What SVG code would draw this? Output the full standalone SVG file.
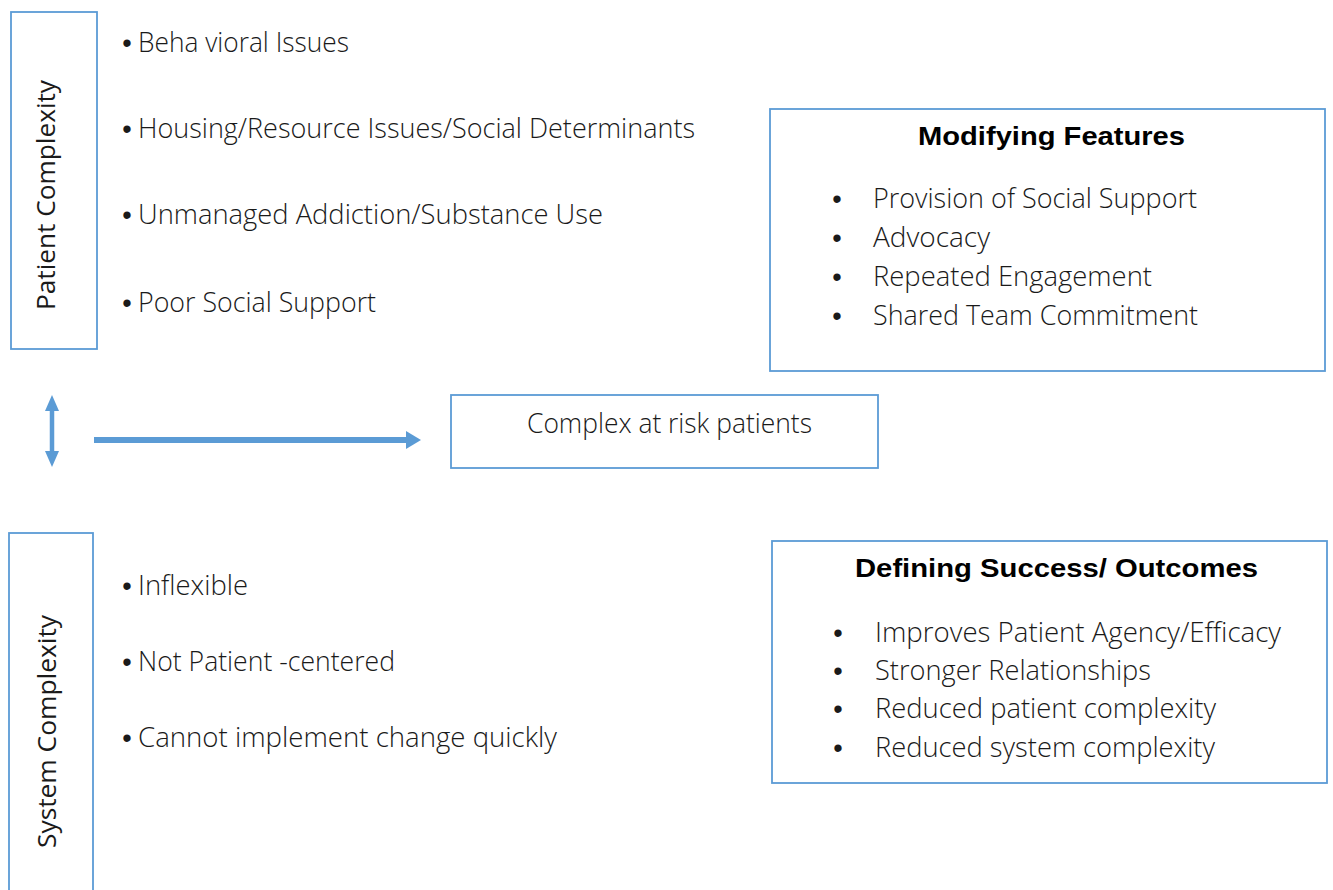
<svg xmlns="http://www.w3.org/2000/svg" width="1333" height="890" viewBox="0 0 1333 890">
  <style>
    .box { fill: #ffffff; stroke: #5B9BD5; stroke-width: 1.8; }
    .txt { font-family: "Open Sans", Lato, "Liberation Sans", sans-serif; font-weight: 300; font-size: 28px; fill: #1a1a1a; }
    .side { font-family: "Open Sans", Lato, "Liberation Sans", sans-serif; font-weight: 400; font-size: 25px; fill: #1a1a1a; }
    .bul { font-family: "Liberation Sans", Arial, sans-serif; font-size: 27px; fill: #1a1a1a; text-anchor: middle; }
    .title { font-family: "Liberation Sans", Arial, sans-serif; font-weight: bold; font-size: 26.5px; fill: #000000; }
    .wire { fill: none; stroke: #5B9BD5; }
  </style>
  <defs>
    <marker id="tip" markerUnits="userSpaceOnUse" markerWidth="15" markerHeight="18" refX="0" refY="9" orient="auto" viewBox="0 0 15 18">
      <path d="M0,0 L15,9 L0,18 z" fill="#5B9BD5"/>
    </marker>
    <marker id="tipNarrow" markerUnits="userSpaceOnUse" markerWidth="16" markerHeight="14" refX="0" refY="7" orient="auto-start-reverse" viewBox="0 0 16 14">
      <path d="M0,0 L16,7 L0,14 z" fill="#5B9BD5"/>
    </marker>
  </defs>

  <rect width="1333" height="890" fill="#ffffff"/>

  <!-- patient complexity column -->
  <g id="patient-complexity">
    <rect class="box" x="11" y="12" width="86" height="337"/>
    <text class="side" transform="translate(55,310) rotate(-90)" textLength="230" lengthAdjust="spacingAndGlyphs">Patient Complexity</text>
  </g>

  <g id="patient-factors">
    <text class="bul" x="127" y="52">•</text>
    <text class="txt" x="138" y="52" textLength="211" lengthAdjust="spacingAndGlyphs">Beha vioral Issues</text>
    <text class="bul" x="127" y="138">•</text>
    <text class="txt" x="138" y="138" textLength="557" lengthAdjust="spacingAndGlyphs">Housing/Resource Issues/Social Determinants</text>
    <text class="bul" x="127" y="224">•</text>
    <text class="txt" x="138" y="224" textLength="465" lengthAdjust="spacingAndGlyphs">Unmanaged Addiction/Substance Use</text>
    <text class="bul" x="127" y="312">•</text>
    <text class="txt" x="138" y="312" textLength="238" lengthAdjust="spacingAndGlyphs">Poor Social Support</text>
  </g>

  <!-- system complexity column -->
  <g id="system-complexity">
    <rect class="box" x="9" y="533" width="84" height="370"/>
    <text class="side" transform="translate(56,848) rotate(-90)" textLength="233" lengthAdjust="spacingAndGlyphs">System Complexity</text>
  </g>

  <g id="system-factors">
    <text class="bul" x="127" y="595">•</text>
    <text class="txt" x="138" y="595" textLength="110" lengthAdjust="spacingAndGlyphs">Inflexible</text>
    <text class="bul" x="127" y="671">•</text>
    <text class="txt" x="138" y="671" textLength="257" lengthAdjust="spacingAndGlyphs">Not Patient -centered</text>
    <text class="bul" x="127" y="747">•</text>
    <text class="txt" x="138" y="747" textLength="419" lengthAdjust="spacingAndGlyphs">Cannot implement change quickly</text>
  </g>

  <!-- central outcome node -->
  <g id="complex-patients">
    <rect class="box" x="451" y="395" width="427" height="73"/>
    <text class="txt" x="527" y="433" textLength="285" lengthAdjust="spacingAndGlyphs">Complex at risk patients</text>
  </g>

  <g id="modifying-features">
    <rect class="box" x="770" y="109" width="555" height="262"/>
    <text class="title" x="918" y="145" textLength="267" lengthAdjust="spacingAndGlyphs">Modifying Features</text>
    <text class="bul" x="837" y="208">•</text>
    <text class="txt" x="873" y="208" textLength="324" lengthAdjust="spacingAndGlyphs">Provision of Social Support</text>
    <text class="bul" x="837" y="247">•</text>
    <text class="txt" x="873" y="247" textLength="117" lengthAdjust="spacingAndGlyphs">Advocacy</text>
    <text class="bul" x="837" y="286">•</text>
    <text class="txt" x="873" y="286" textLength="279" lengthAdjust="spacingAndGlyphs">Repeated Engagement</text>
    <text class="bul" x="837" y="325">•</text>
    <text class="txt" x="873" y="325" textLength="325" lengthAdjust="spacingAndGlyphs">Shared Team Commitment</text>
  </g>

  <g id="defining-success">
    <rect class="box" x="772" y="541" width="555" height="242"/>
    <text class="title" x="855" y="577" textLength="403" lengthAdjust="spacingAndGlyphs">Defining Success/ Outcomes</text>
    <text class="bul" x="838" y="642">•</text>
    <text class="txt" x="875" y="642" textLength="406" lengthAdjust="spacingAndGlyphs">Improves Patient Agency/Efficacy</text>
    <text class="bul" x="838" y="680">•</text>
    <text class="txt" x="875" y="680" textLength="276" lengthAdjust="spacingAndGlyphs">Stronger Relationships</text>
    <text class="bul" x="838" y="718">•</text>
    <text class="txt" x="875" y="718" textLength="341" lengthAdjust="spacingAndGlyphs">Reduced patient complexity</text>
    <text class="bul" x="838" y="757">•</text>
    <text class="txt" x="875" y="757" textLength="340" lengthAdjust="spacingAndGlyphs">Reduced system complexity</text>
  </g>

  <!-- connectors -->
  <g id="connectors">
    <line class="wire" x1="52" y1="411" x2="52" y2="451" stroke-width="4.5" marker-start="url(#tipNarrow)" marker-end="url(#tipNarrow)"/>
    <line class="wire" x1="94" y1="440" x2="406" y2="440" stroke-width="6" marker-end="url(#tip)"/>
  </g>
</svg>
